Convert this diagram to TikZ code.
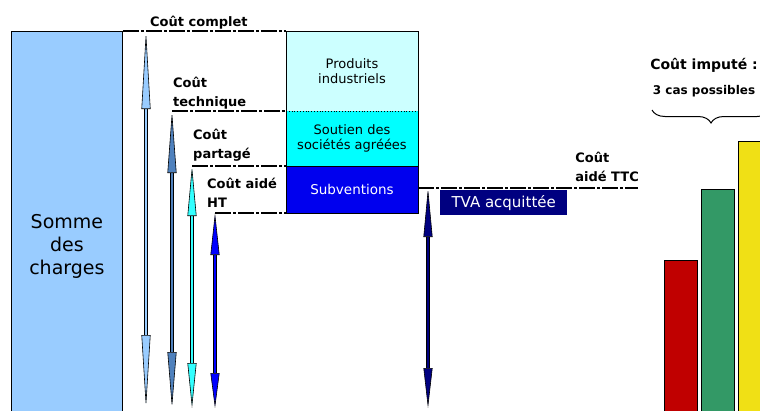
\documentclass[tikz,border=0pt]{standalone}
\usepackage{fontspec}
\setmainfont{DejaVu Sans}
\usetikzlibrary{positioning, arrows.meta, decorations.pathreplacing}

\definecolor{chargesblue}{HTML}{99CCFF}
\definecolor{techblue}{HTML}{4F81BD}
\definecolor{partcyan}{HTML}{33FFFF}
\definecolor{htblue}{HTML}{0000FF}
\definecolor{ttcnavy}{HTML}{000080}
\definecolor{prodcyan}{HTML}{CCFFFF}
\definecolor{soutcyan}{HTML}{00FFFF}
\definecolor{subvblue}{HTML}{0000EE}
\definecolor{barred}{HTML}{C00000}
\definecolor{bargreen}{HTML}{339966}
\definecolor{baryellow}{HTML}{F0E015}

\tikzset{
  box/.style={rectangle, minimum width=132pt, inner sep=0pt, outer sep=0pt, align=center,
    font=\fontsize{13}{15}\selectfont},
  costline/.style={line width=1.4pt, dash pattern=on 16pt off 2pt on 3pt off 2pt},
  costlabel/.style={inner sep=0pt, align=left, font=\bfseries\fontsize{13}{19}\selectfont},
  costarrow/.style n args={3}{draw=black, line width=0.6pt, double=#1, double distance=2.2pt,
    {Triangle[length=#2, width=9pt, fill=#1, line width=0.6pt]}-{Triangle[length=#3, width=9pt, fill=#1, line width=0.6pt]}},
  bar/.style={draw=black, line width=0.8pt, minimum width=33pt, anchor=north west, inner sep=0pt}
}

\begin{document}
\begin{tikzpicture}[x=1pt, y=-1pt, node distance=0pt]
  \path[use as bounding box, clip] (0,0) rectangle (760,410);

  % somme des charges
  \node[draw, line width=0.8pt, fill=chargesblue, minimum width=111pt, minimum height=430pt,
        anchor=north west, align=center, font=\fontsize{19}{23}\selectfont] (somme) at (11,31)
        {Somme\\des\\charges};

  % colonne des financements
  \node[box, fill=prodcyan, minimum height=80pt, anchor=north west] (produits) at (286,31)
        {Produits\\industriels};
  \node[box, fill=soutcyan, minimum height=55pt, below=of produits] (soutien)
        {Soutien des\\sociétés agréées};
  \node[box, fill=subvblue, minimum height=47pt, below=of soutien, text=white,
        font=\fontsize{13.5}{15}\selectfont] (subv) {Subventions};
  \draw[line width=1pt] (produits.north west) rectangle (subv.south east);
  \draw[line width=1pt] (subv.north west) -- (subv.north east);
  \draw[dotted, line width=0.8pt] (soutien.north west) -- (soutien.north east);

  \node[fill=ttcnavy, text=white, minimum width=127pt, minimum height=25pt, inner sep=0pt,
        anchor=north west, font=\fontsize{15}{17}\selectfont] (tva) at (440,190) {TVA acquittée};

  % niveaux de cout
  \coordinate (topcomplet) at (146,31);
  \coordinate (toptech) at (172,111);
  \coordinate (toppart) at (192,166);
  \coordinate (topht) at (215,213);
  \coordinate (ttcstart) at (418,188);
  \coordinate (topttc) at (428,188);
  \coordinate (ttcend) at (638,188);
  \coordinate (botcomplet) at (146,408);
  \coordinate (bottech) at (172,408);
  \coordinate (botpart) at (192,408);
  \coordinate (botht) at (215,408);
  \coordinate (botttc) at (428,408);

  \draw[costline] (somme.north east) -- (produits.north west);
  \draw[costline] (toptech) -- (soutien.north west);
  \draw[costline] (toppart) -- (subv.north west);
  \draw[costline] (topht) -- (subv.south west);
  \draw[costline] (ttcstart) -- (ttcend);

  \node[costlabel, above right=2pt and 4pt of topcomplet] (lcomplet) {Coût complet};
  \node[costlabel, above right=2pt and 1pt of toptech] (ltech) {Coût\\technique};
  \node[costlabel, above right=4pt and 1pt of toppart] (lpart) {Coût\\partagé};
  \node[costlabel, above right=5pt and -8pt of topht] (lht) {Coût aidé\\HT};
  \node[costlabel, above left=6pt and -1pt of ttcend] (lttc) {Coût\\aidé TTC};

  \draw[costarrow={chargesblue}{78pt}{73pt}] (topcomplet) -- (botcomplet);
  \draw[costarrow={techblue}{62pt}{56pt}] (toptech) -- (bottech);
  \draw[costarrow={partcyan}{50pt}{45pt}] (toppart) -- (botpart);
  \draw[costarrow={htblue}{42pt}{35pt}] (topht) -- (botht);
  \draw[costarrow={ttcnavy}{49pt}{40pt}] (topttc) -- (botttc);

  % cout impute
  \node[font=\bfseries\fontsize{14}{16}\selectfont] (imput) at (704,65) {Coût imputé :};
  \node[below=6pt of imput, font=\bfseries\fontsize{12}{14}\selectfont] (cas) {3 cas possibles};
  \coordinate (bracel) at (652,110);
  \coordinate (bracer) at (770,110);
  \draw[decorate, decoration={brace, mirror, amplitude=13pt}, line width=1pt] (bracel) -- (bracer);

  \node[bar, fill=barred, minimum height=200pt] (redbar) at (664,260) {};
  \node[bar, fill=bargreen, minimum height=260pt] (greenbar) at (701,189) {};
  \node[bar, fill=baryellow, minimum height=300pt] (yellowbar) at (738,141) {};
\end{tikzpicture}
\end{document}
